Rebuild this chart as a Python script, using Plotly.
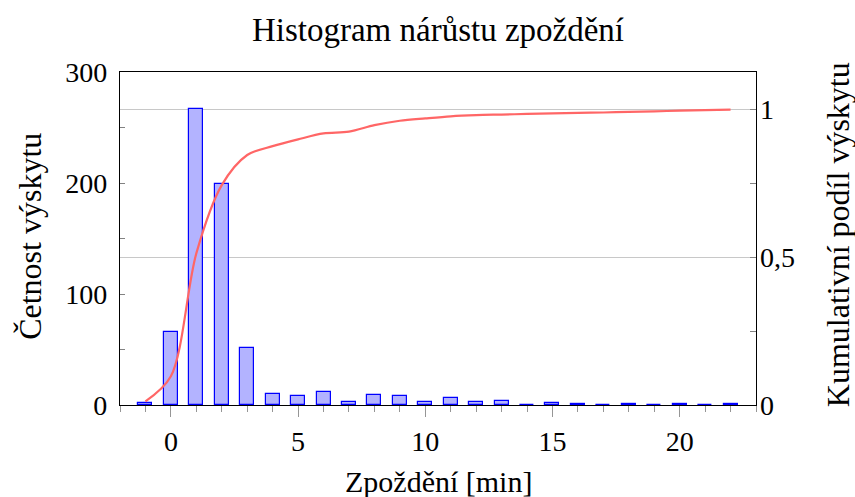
import plotly.graph_objects as go

# ---- data ----
delay_min = [-1, 0, 1, 2, 3, 4, 5, 6, 7, 8, 9, 10, 11, 12, 13, 14, 15, 16, 17, 18, 19, 20, 21, 22]
counts = [2, 66, 267, 199, 51, 10, 8, 12, 3, 9, 8, 3, 6, 3, 4, 0, 2, 1, 0, 1, 0, 1, 0, 1]
cumulative_share = [0.012, 0.097, 0.513, 0.744, 0.846, 0.876, 0.899, 0.919, 0.925, 0.947,
                    0.962, 0.970, 0.977, 0.981, 0.983, 0.985, 0.987, 0.989, 0.990, 0.992,
                    0.994, 0.996, 0.998, 1.000]
x_ticks = [0, 5, 10, 15, 20]
y_ticks = [0, 100, 200, 300]
y2_ticks = [0, 0.5, 1]
y2_ticklabels = ["0", "0,5", "1"]

FONT = "Liberation Serif"
W, H = 855, 497
L, R, T, B = 120, 99, 72, 92
pw = W - L - R
ph = H - T - B

fig = go.Figure()
fig.add_trace(go.Bar(
    x=delay_min, y=counts, width=0.55,
    marker=dict(color="rgb(179,179,255)", line=dict(color="rgb(0,0,255)", width=1.2)),
    yaxis="y", showlegend=False,
))
fig.add_trace(go.Scatter(
    x=delay_min, y=cumulative_share, mode="lines",
    line=dict(color="rgb(255,102,102)", width=2.2, shape="spline", smoothing=0.9),
    yaxis="y2", showlegend=False,
))

fig.update_layout(
    width=W, height=H,
    margin=dict(l=L, r=R, t=T, b=B),
    paper_bgcolor="white", plot_bgcolor="white",
    font=dict(family=FONT, size=28, color="black"),
    title=dict(text="Histogram nárůstu zpoždění", x=(L + pw / 2) / W, xanchor="center",
               y=1 - 29 / H, yanchor="middle", yref="container",
               font=dict(family=FONT, size=33)),
    bargap=0,
    xaxis=dict(
        range=[-2, 23], tickvals=x_ticks, ticks="outside", ticklen=11, tickcolor="rgb(150,150,150)",
        tickwidth=1, showline=True, linecolor="black", linewidth=1.2, mirror=True,
        showgrid=False, zeroline=False, tickfont=dict(size=28),
        minor=dict(dtick=1, tick0=0, ticks="outside", ticklen=6, tickcolor="rgb(150,150,150)", tickwidth=1),
    ),
    yaxis=dict(
        range=[0, 300], tickvals=y_ticks, ticks="inside", ticklen=5, tickcolor="rgb(130,130,130)",
        showline=True, linecolor="black", linewidth=1.2, mirror=True,
        showgrid=False, zeroline=False, tickfont=dict(size=28), ticklabelstandoff=6,
        minor=dict(tickvals=[50, 150, 250], ticks="inside", ticklen=5, tickcolor="rgb(130,130,130)"),
    ),
    yaxis2=dict(
        range=[0, 1.127], overlaying="y", side="right",
        tickvals=y2_ticks, ticktext=y2_ticklabels, ticks="inside", ticklen=6, tickcolor="rgb(130,130,130)",
        showline=False, showgrid=True, gridcolor="rgb(200,200,200)", gridwidth=1, zeroline=False,
        tickfont=dict(size=28), ticklabelstandoff=3,
        minor=dict(tickvals=[0.25, 0.75], ticks="inside", ticklen=6, tickcolor="rgb(130,130,130)"),
    ),
    annotations=[
        dict(text="Zpoždění [min]", xref="paper", yref="paper", x=0.5, y=((H - B) - 481) / ph,
             xanchor="center", yanchor="middle", showarrow=False, font=dict(family=FONT, size=30)),
        dict(text="Četnost výskytu", xref="paper", yref="paper", x=(30 - L) / pw, y=0.505,
             xanchor="center", yanchor="middle", textangle=-90, showarrow=False,
             font=dict(family=FONT, size=32)),
        dict(text="Kumulativní podíl výskytu", xref="paper", yref="paper", x=(838 - L) / pw, y=0.51,
             xanchor="center", yanchor="middle", textangle=-90, showarrow=False,
             font=dict(family=FONT, size=32)),
    ],
)

fig.write_html("out.html")
